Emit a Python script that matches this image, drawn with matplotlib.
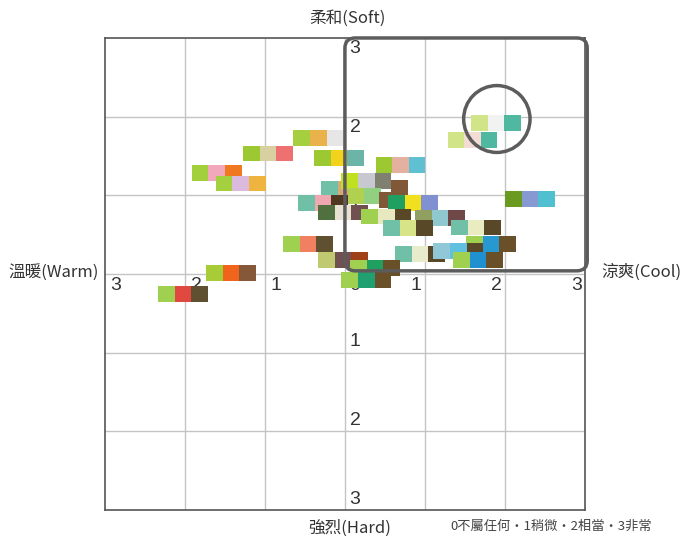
import matplotlib.pyplot as plt
from matplotlib.patches import Rectangle, FancyBboxPatch, Ellipse

plt.rcParams['font.family'] = ['Noto Sans CJK TC', 'DejaVu Sans']

# each palette: x centre of first swatch, y centre, swatch colours (left to right)
pal_x = [-0.54, -1.17, -0.28, -1.81, -1.51, 0.49, 1.68, 1.39, 2.11,
         -2.23, -1.63, -0.67, -0.23,
         -0.19, 0.06, 0.68, 0.14, 0.53, 0.645, -0.48, -0.23, 0.31, 0.98,
         0.58, 1.43, 1.62, 0.73, 1.21, 1.46, 0.17, 0.06]
pal_y = [1.73, 1.53, 1.47, 1.28, 1.15, 1.39, 1.92, 1.70, 0.95,
         -0.25, 0.01, 0.38, 0.18,
         1.08, 1.18, 1.09, 0.99, 0.94, 0.90, 0.90, 0.78, 0.73, 0.71,
         0.58, 0.59, 0.38, 0.25, 0.29, 0.18, 0.08, -0.08]
pal_colors = [
    ['#a6cf3f', '#eab24a', '#e6e6e6'],
    ['#9cc832', '#d8d0a0', '#ee7070'],
    ['#9cc832', '#f2d21a', '#6cb3a8'],
    ['#a2cf3c', '#f0a8ba', '#f07820'],
    ['#a4d040', '#dcbade', '#efb340'],
    ['#9cc832', '#e4b0a0', '#5ec0d0'],
    ['#d2e488', '#f2f2f2', '#50b8a0'],
    ['#d2e488', '#f2dcd4', '#50b8a0'],
    ['#6a9a20', '#8898d0', '#50c0d0'],
    ['#a0d050', '#e04840', '#5e5030'],
    ['#a8cc38', '#f0641c', '#845838'],
    ['#a0d050', '#f08060', '#5e5030'],
    ['#c0c870', '#705050', '#a04018'],
    ['#70c0a8', '#d8a878'],
    ['#c0e020', '#c8c8d0', '#808070'],
    ['#805838'],
    ['#b0d050', '#90d080'],
    ['#805838'],
    ['#20a060', '#f0e020', '#8090d0'],
    ['#70c0a8', '#f0a8b0', '#503820'],
    ['#507040', '#e8e0d0', '#705050'],
    ['#a0d050', '#e8e8c0', '#584828'],
    ['#90a060', '#90c8d0', '#704848'],
    ['#70c0a8', '#d8e488', '#584828'],
    ['#70c0a8', '#e8ecc0', '#584828'],
    ['#a0d050', '#2898d0', '#6a5028'],
    ['#70c0a8', '#e8eccc', '#584828'],
    ['#90c8d8', '#60c0e0', '#584828'],
    ['#a0d050', '#2090d0', '#6a5028'],
    ['#a0d050', '#20a060', '#6a5028'],
    ['#a0d050', '#20a070', '#6a5028'],
]

ticks = [1, 2, 3]
axis_labels = {'top': '柔和(Soft)', 'bottom': '強烈(Hard)', 'left': '溫暖(Warm)', 'right': '涼爽(Cool)'}
note = '0不屬任何・1稍微・2相當・3非常'

w, h = 0.207, 0.2
line_c = '#5c5c5c'

fig = plt.figure(figsize=(6.84, 5.41), dpi=100)
ax = fig.add_axes([0.1535, 0.0573, 0.7015, 0.8725])
ax.set_xlim(-3, 3)
ax.set_ylim(-3, 3)
ax.set_xticks([])
ax.set_yticks([])
for s in ax.spines.values():
    s.set_color('#555555')
    s.set_linewidth(1.2)

for v in range(-2, 3):
    ax.axvline(v, color='#c4c4c4', lw=1, zorder=0)
    ax.axhline(v, color='#c4c4c4', lw=1, zorder=0)

for x0, y0, cols in zip(pal_x, pal_y, pal_colors):
    for i, c in enumerate(cols):
        ax.add_patch(Rectangle((x0 + i * w - w / 2, y0 - h / 2), w, h,
                               facecolor=c, edgecolor='none', zorder=2))

# highlight box and circle
ax.add_patch(FancyBboxPatch((0, 0.04), 3.03, 2.96, boxstyle='round,pad=0,rounding_size=0.13',
                            fill=False, edgecolor=line_c, lw=2.5, zorder=5, clip_on=False))
ax.add_patch(Ellipse((1.9, 1.97), 0.83, 0.85, fill=False, edgecolor=line_c, lw=2.5, zorder=5))

# scale numbers (behind the swatches)
tk = dict(fontsize=14, color='#333333', family='Liberation Sans', zorder=1)
for v in ticks:
    ax.text(0.06, v - 0.03, str(v), va='top', ha='left', **tk)
    ax.text(0.06, -v + 0.03, str(v), va='bottom', ha='left', **tk)
    ax.text(v - 0.04, -0.04, str(v), va='top', ha='right', **tk)
    ax.text(-v + 0.07, -0.04, str(v), va='top', ha='left', **tk)
ax.text(0.06, -0.04, '0', va='top', ha='left', **tk)

lk = dict(fontsize=12, color='#333333')
fig.text(347 / 684, 1 - 18 / 541, axis_labels['top'], ha='center', va='center', **lk)
fig.text(350 / 684, 1 - 528 / 541, axis_labels['bottom'], ha='center', va='center', **lk)
fig.text(8 / 684, 1 - 272 / 541, axis_labels['left'], ha='left', va='center', **lk)
fig.text(601 / 684, 1 - 272 / 541, axis_labels['right'], ha='left', va='center', **lk)
fig.text(450 / 684, 1 - 526 / 541, note, ha='left', va='center', fontsize=9.5, color='#444444')

fig.savefig('out.png', dpi=100)
